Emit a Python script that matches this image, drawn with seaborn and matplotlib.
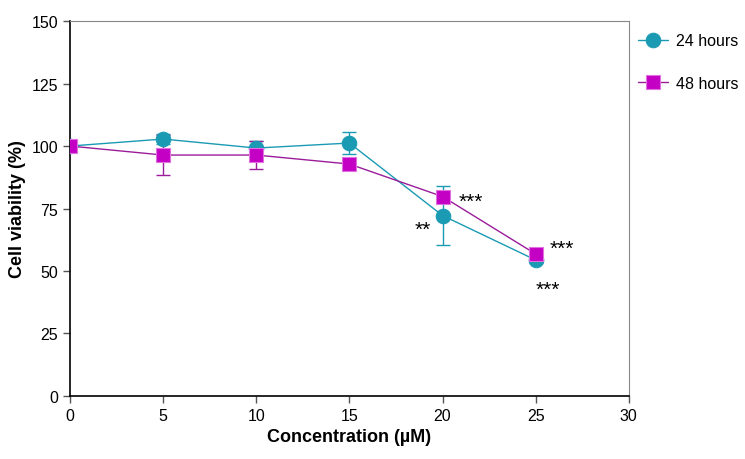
import numpy as np
import pandas as pd
import seaborn as sns
import matplotlib.pyplot as plt

# --- Dados ---
conc = [0, 5, 10, 15, 20, 25]
via_24h = [100.0, 102.8, 99.2, 101.2, 72.2, 54.4]
err_24h = [0.0, 2.0, 3.0, 4.4, 11.8, 1.0]
via_48h = [100.0, 96.4, 96.4, 92.8, 79.8, 56.8]
err_48h = [0.0, 8.0, 5.6, 1.5, 2.0, 1.5]
series = ['24 hours', '48 hours']

sig_labels = ['**', '***', '***', '***']
sig_x = [18.95, 21.5, 26.4, 25.65]
sig_y = [66.5, 78.0, 59.0, 42.5]

df = pd.DataFrame({
    'conc': conc * 2,
    'viab': via_24h + via_48h,
    'grupo': [series[0]] * len(conc) + [series[1]] * len(conc),
})

sns.set_style('ticks')
plt.rcParams['font.family'] = ['Liberation Sans', 'DejaVu Sans']
plt.rcParams['text.color'] = 'black'
plt.rcParams['axes.labelcolor'] = 'black'
plt.rcParams['xtick.labelcolor'] = 'black'
plt.rcParams['ytick.labelcolor'] = 'black'

cor_24 = '#1b9ab4'
cor_48_linha = '#9a1c9a'
cor_48 = '#c400c4'

fig = plt.figure(figsize=(7.45, 4.6), dpi=100)
ax = fig.add_axes([0.094, 0.137, 0.750, 0.815])

# barras de erro
ax.errorbar(conc, via_24h, yerr=err_24h, fmt='none', ecolor=cor_24, elinewidth=1,
            capsize=5, capthick=1, zorder=2)
ax.errorbar(conc, via_48h, yerr=err_48h, fmt='none', ecolor=cor_48_linha, elinewidth=1,
            capsize=5, capthick=1, zorder=2)

sns.lineplot(data=df[df['grupo'] == series[0]], x='conc', y='viab', ax=ax, color=cor_24,
             linewidth=1, marker='o', markersize=10.5, markerfacecolor=cor_24,
             markeredgecolor=cor_24, label=series[0], zorder=3)
sns.lineplot(data=df[df['grupo'] == series[1]], x='conc', y='viab', ax=ax, color=cor_48_linha,
             linewidth=1, marker='s', markersize=10.5, markerfacecolor=cor_48,
             markeredgecolor='#e070e0', markeredgewidth=0.8, label=series[1], zorder=4)

for s, x, y in zip(sig_labels, sig_x, sig_y):
    ax.text(x, y, s, fontsize=15, ha='center', va='center', color='black')

ax.set_xlim(0, 30)
ax.set_ylim(0, 150)
ax.set_xticks(range(0, 31, 5))
ax.set_yticks(range(0, 151, 25))
ax.tick_params(axis='both', labelsize=11.5, color='#555555', length=5, width=1, direction='out')
ax.set_xlabel('Concentration (µM)', fontsize=13, fontweight='bold')
ax.set_ylabel('Cell viability (%)', fontsize=13, fontweight='bold')

for sp in ['left', 'bottom']:
    ax.spines[sp].set_color('black')
    ax.spines[sp].set_linewidth(1.2)
for sp in ['top', 'right']:
    ax.spines[sp].set_visible(True)
    ax.spines[sp].set_color('#888888')
    ax.spines[sp].set_linewidth(0.8)

ax.legend(loc='upper left', bbox_to_anchor=(0.856, 0.925), bbox_transform=fig.transFigure,
          frameon=False, fontsize=11.5, handlelength=1.9, handletextpad=0.5, borderpad=0,
          labelspacing=1.7, markerscale=1.0, borderaxespad=0)

plt.savefig('out.png', dpi=100)
plt.close()
